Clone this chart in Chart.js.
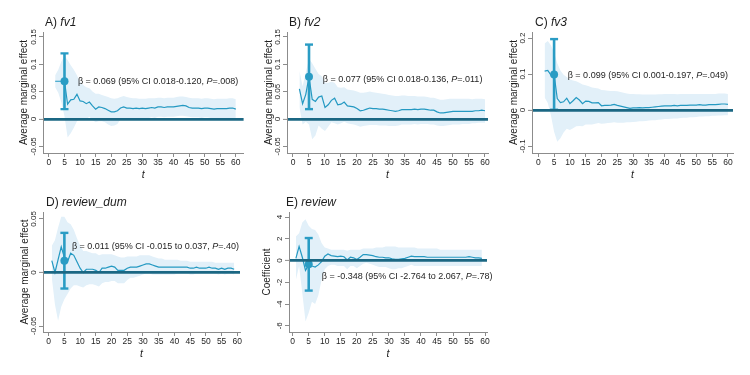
<!DOCTYPE html>
<html>
<head>
<meta charset="utf-8">
<script src="https://cdn.jsdelivr.net/npm/chart.js@4.4.1/dist/chart.umd.min.js"></script>
<style>
  html, body { margin: 0; padding: 0; background: #fff; }
  #wrap { position: relative; width: 750px; height: 375px; overflow: hidden; background: #fff; }
  #wrap canvas { position: absolute; }
</style>
</head>
<body>
<div id="wrap">
  <canvas id="panelA"></canvas>
  <canvas id="panelB"></canvas>
  <canvas id="panelC"></canvas>
  <canvas id="panelD"></canvas>
  <canvas id="panelE"></canvas>
</div>
<script>
// t values (months since start)
const tFrom2 = [2,3,4,5,6,7,8,9,10,11,12,13,14,15,16,17,18,19,20,21,22,23,24,25,26,27,28,29,30,31,
  32,33,34,35,36,37,38,39,40,41,42,43,44,45,46,47,48,49,50,51,52,53,54,55,56,57,58,59,60];
const tFrom1 = [1,2,3,4,5,6,7,8,9,10,11,12,13,14,15,16,17,18,19,20,21,22,23,24,25,26,27,28,29,30,
  31,32,33,34,35,36,37,38,39,40,41,42,43,44,45,46,47,48,49,50,51,52,53,54,55,56,57,58,59];

// A) fv1
const fv1Est = [.069,.069,.069,.069,.027,.035,.036,.045,.033,.032,.028,.031,.024,.018,.022,.021,.019,.016,.013,.013,
  .015,.020,.022,.020,.020,.019,.020,.019,.020,.019,.020,.021,.020,.022,.022,.021,.022,.022,.022,.023,
  .024,.025,.024,.021,.020,.020,.020,.019,.020,.020,.019,.018,.019,.019,.019,.019,.020,.020,.018];
const fv1Upper = [.080,.090,.105,.115,.108,.098,.090,.080,.068,.062,.058,.056,.050,.046,.046,.044,.042,.040,.038,.037,
  .038,.040,.042,.040,.039,.038,.038,.037,.037,.037,.038,.038,.038,.039,.039,.038,.039,.039,.039,.040,
  .041,.041,.040,.039,.038,.038,.038,.037,.038,.038,.037,.036,.037,.037,.037,.037,.038,.038,.036];
const fv1Lower = [.058,.048,.030,.005,-.034,-.026,-.016,-.004,.000,.002,.000,.004,-.002,-.006,-.004,-.004,-.006,-.010,-.013,-.012,
  -.009,.000,.002,.001,.001,.001,.002,.001,.002,.001,.002,.003,.002,.004,.004,.003,.004,.004,.004,.005,
  .006,.006,.005,.004,.003,.003,.003,.002,.003,.003,.002,.001,.002,.002,.002,.002,.002,.002,.001];

// B) fv2
const fv2Est = [.055,.028,.045,.077,.036,.032,.040,.042,.021,.026,.034,.038,.026,.027,.031,.024,.023,.022,.019,.015,
  .016,.018,.020,.019,.019,.018,.018,.017,.016,.015,.014,.015,.017,.017,.017,.017,.018,.017,.018,.018,
  .017,.016,.016,.013,.011,.011,.012,.013,.014,.014,.014,.014,.014,.014,.014,.015,.015,.016,.015];
const fv2Upper = [.088,.060,.085,.110,.102,.092,.082,.078,.066,.066,.068,.066,.058,.057,.058,.054,.053,.052,.050,.048,
  .048,.049,.050,.049,.048,.047,.046,.045,.044,.043,.042,.042,.043,.043,.042,.042,.042,.041,.041,.041,
  .040,.039,.039,.037,.035,.035,.036,.037,.037,.037,.037,.037,.037,.037,.036,.037,.037,.037,.036];
const fv2Lower = [.022,-.010,-.005,-.010,-.037,-.030,-.012,-.018,-.022,-.014,-.006,-.008,-.010,-.008,-.005,-.008,-.009,-.010,-.012,-.014,
  -.013,-.012,-.011,-.011,-.011,-.012,-.012,-.012,-.013,-.013,-.013,-.012,-.010,-.010,-.010,-.010,-.009,-.010,-.009,-.009,
  -.009,-.010,-.010,-.012,-.013,-.013,-.012,-.011,-.010,-.010,-.010,-.009,-.009,-.009,-.008,-.008,-.007,-.007,-.007];

// C) fv3
const fv3Est = [.108,.110,.097,.099,.032,.021,.023,.033,.018,.026,.035,.028,.018,.025,.024,.020,.020,.021,.012,.013,
  .013,.014,.016,.013,.011,.009,.007,.005,.006,.006,.007,.006,.007,.007,.008,.009,.010,.011,.012,.012,
  .012,.013,.012,.013,.013,.013,.014,.014,.014,.015,.014,.014,.015,.015,.015,.016,.017,.017,.016];
const fv3Upper = [.185,.192,.180,.160,.130,.110,.098,.092,.085,.082,.080,.076,.071,.069,.066,.063,.061,.060,.056,.055,
  .054,.053,.053,.052,.050,.048,.046,.045,.045,.044,.044,.043,.043,.043,.043,.043,.044,.044,.045,.045,
  .045,.045,.044,.045,.045,.045,.045,.045,.045,.045,.045,.045,.045,.045,.045,.046,.046,.046,.045];
const fv3Lower = [.035,.020,-.015,-.060,-.088,-.078,-.062,-.052,-.055,-.050,-.045,-.044,-.045,-.040,-.040,-.040,-.038,-.036,-.038,-.037,
  -.036,-.035,-.034,-.035,-.035,-.035,-.034,-.034,-.033,-.032,-.031,-.031,-.030,-.029,-.028,-.028,-.027,-.026,-.025,-.025,
  -.024,-.023,-.023,-.022,-.021,-.021,-.020,-.020,-.019,-.018,-.018,-.017,-.017,-.016,-.016,-.015,-.015,-.014,-.014];

// D) review_dum
const reviewDumEst = [.011,.000,.012,.024,.014,.010,.018,.016,.010,.004,.000,.003,.003,.003,.002,.000,.004,.004,.005,.006,
  .005,.002,.002,.002,.004,.005,.005,.005,.006,.007,.008,.008,.007,.006,.005,.005,.005,.005,.005,.005,
  .005,.005,.005,.005,.004,.004,.005,.004,.004,.004,.005,.004,.004,.003,.004,.003,.004,.004,.003];
const reviewDumUpper = [.025,.030,.042,.052,.052,.047,.045,.040,.032,.025,.020,.020,.019,.018,.018,.016,.017,.017,.017,.017,
  .016,.015,.014,.014,.015,.015,.015,.015,.016,.016,.016,.016,.015,.014,.013,.013,.012,.012,.012,.012,
  .012,.011,.011,.011,.010,.010,.010,.010,.010,.010,.010,.010,.009,.009,.009,.009,.009,.009,.009];
const reviewDumLower = [-.005,-.030,-.045,-.032,-.025,-.020,-.015,-.012,-.012,-.013,-.014,-.012,-.011,-.011,-.012,-.013,-.010,-.009,-.009,-.008,
  -.008,-.010,-.010,-.010,-.007,-.005,-.005,-.004,-.003,-.002,-.001,-.001,-.002,-.002,-.002,-.002,-.002,-.002,-.002,-.002,
  -.001,-.001,-.001,-.001,-.002,-.002,-.001,-.001,-.001,-.001,-.001,-.001,-.001,-.002,-.001,-.002,-.001,-.001,-.002];

// E) review
const reviewEst = [.2,1.3,.3,-.9,-.4,-.5,-.6,-.4,-.1,.4,.6,.45,.4,.35,.4,.35,.05,.3,.25,.1,
  .3,.55,.55,.5,.45,.35,.3,.3,.25,.25,.15,.1,.1,.15,.2,.3,.4,.35,.35,.35,
  .35,.3,.3,.3,.3,.3,.3,.3,.3,.3,.3,.3,.3,.3,.35,.3,.25,.25,.2];
const reviewUpper = [2.2,2.5,3.5,3.8,3.2,2.9,2.8,2.4,1.6,1.2,1.1,1.0,1.0,1.0,1.0,1.0,.9,1.0,1.0,1.0,
  1.0,1.1,1.1,1.1,1.1,1.2,1.2,1.2,1.3,1.3,1.3,1.3,1.2,1.2,1.2,1.2,1.2,1.2,1.1,1.1,
  1.1,1.1,1.1,1.1,1.1,1.0,1.0,1.0,1.0,1.0,1.0,1.0,1.0,1.0,1.0,1.0,1.0,1.0,1.0];
const reviewLower = [-1.8,-.5,-3.0,-5.6,-4.8,-3.8,-4.0,-3.2,-1.8,-.8,-.5,-.4,-.4,-.5,-.5,-.5,-.8,-.5,-.5,-.7,
  -.5,-.3,-.2,-.3,-.4,-.5,-.6,-.6,-.6,-.7,-.8,-.8,-.7,-.7,-.6,-.5,-.4,-.5,-.5,-.5,
  -.5,-.5,-.5,-.5,-.5,-.5,-.5,-.5,-.5,-.5,-.5,-.5,-.5,-.5,-.5,-.5,-.5,-.5,-.5];

// point estimate at t = 5 with 95% CI
const betaT = 5;
const betas = [0.069, 0.077, 0.099, 0.011, -0.348];
const ciLow = [0.018, 0.018, 0.001, -0.015, -2.764];
const ciHigh = [0.120, 0.136, 0.197, 0.037, 2.067];

const fam = "'Liberation Sans', Arial, Helvetica, sans-serif";
const lineColor = '#2499c2';
const markColor = '#2a9cc4';
const zeroColor = '#1b6783';
const bandColor = '#e2f0f9';
const axisColor = '#8c8c8c';
const textColor = '#1e1e1e';

Chart.defaults.font.family = fam;

const fmt = v => String(+(+v).toFixed(3));

const panelText = {
  id: 'panelText',
  afterDraw(chart, args, o) {
    const ctx = chart.ctx;
    ctx.save();
    ctx.fillStyle = textColor;
    ctx.textAlign = 'left';
    ctx.textBaseline = 'middle';
    const runs = (parts, x, y, size) => {
      parts.forEach(([txt, it]) => {
        ctx.font = (it ? 'italic ' : '') + size + 'px ' + fam;
        ctx.fillText(txt, x, y);
        x += ctx.measureText(txt).width;
      });
    };
    runs(o.title, o.titleX, o.titleY, 12);
    runs(o.note, chart.scales.x.getPixelForValue(o.noteAt[0]), chart.scales.y.getPixelForValue(o.noteAt[1]), 9);
    ctx.restore();
  }
};

function widestTick(p) {
  const c = document.createElement('canvas').getContext('2d');
  c.font = '8px ' + fam;
  let w = 0;
  for (let k = Math.ceil(p.y[0] / p.yStep); k * p.yStep <= p.y[1]; k++) {
    w = Math.max(w, c.measureText(fmt(k * p.yStep)).width);
  }
  return w;
}

function drawPanel(id, p, i) {
  const cv = document.getElementById(id);
  const [cl, ct, cw, ch] = p.box;
  const [pl, pt, pr, pb] = p.plot;
  cv.width = cw; cv.height = ch;
  cv.style.left = cl + 'px'; cv.style.top = ct + 'px';
  const pts = vals => p.t.map((t, k) => ({ x: t, y: vals[k] }));
  const tickLen = 4;
  const yPad = 9 - tickLen - widestTick(p) / 2;
  const xTitleLH = 12;
  const isZero = c => c.tick && Math.abs(c.tick.value) < 1e-9;

  new Chart(cv, {
    type: 'line',
    data: {
      datasets: [
        { data: [{ x: betaT, y: betas[i] }], showLine: false, pointRadius: 4, pointHoverRadius: 4,
          pointBackgroundColor: markColor, pointBorderWidth: 0, borderColor: markColor },
        { data: [{ x: betaT, y: ciLow[i] }, { x: betaT, y: ciHigh[i] }], borderColor: markColor, borderWidth: 2.6,
          pointStyle: 'line', pointRadius: 4, pointHoverRadius: 4, pointBorderColor: markColor, pointBorderWidth: 2.4 },
        { data: pts(p.est), borderColor: lineColor, borderWidth: 1.2, pointRadius: 0, tension: 0 },
        { data: pts(p.upper), borderColor: 'rgba(0,0,0,0)', borderWidth: 1, pointRadius: 0,
          fill: '+1', backgroundColor: bandColor },
        { data: pts(p.lower), borderColor: 'rgba(0,0,0,0)', borderWidth: 1, pointRadius: 0, fill: false }
      ]
    },
    options: {
      responsive: false,
      animation: false,
      devicePixelRatio: 1,
      layout: { padding: { left: 0, right: cl + cw - pr, top: pt - ct, bottom: 0 } },
      plugins: {
        legend: { display: false },
        tooltip: { enabled: false },
        panelText: {
          title: p.title, titleX: p.titleAt[0] - cl, titleY: p.titleAt[1] - ct,
          note: p.note, noteAt: p.noteAt
        }
      },
      scales: {
        x: {
          type: 'linear', min: p.x[0], max: p.x[1],
          afterFit: s => { s.height = ct + ch - pb; },
          ticks: { stepSize: 5, includeBounds: false, font: { size: 8.5 }, color: textColor, padding: 1, maxRotation: 0 },
          grid: { drawOnChartArea: false, tickLength: tickLen, tickColor: axisColor, tickWidth: 1 },
          border: { color: axisColor, width: 1 },
          title: { display: true, text: 't', font: { size: 10.5, style: 'italic' }, color: textColor,
            padding: { top: 0, bottom: ch - (pb - ct + 22) - xTitleLH / 2 } }
        },
        y: {
          min: p.y[0], max: p.y[1],
          afterFit: s => { s.width = pl - cl; },
          ticks: { stepSize: p.yStep, includeBounds: false, minRotation: 90, maxRotation: 90, crossAlign: 'center',
            padding: yPad, font: { size: 8 }, color: textColor, callback: v => fmt(v) },
          grid: {
            z: 1,
            drawOnChartArea: true,
            color: c => isZero(c) ? zeroColor : 'rgba(0,0,0,0)',
            lineWidth: c => isZero(c) ? 2.8 : 1,
            tickLength: tickLen, tickColor: axisColor, tickWidth: 1
          },
          border: { color: axisColor, width: 1, z: 1 },
          title: { display: true, text: p.yTitle, font: { size: 10 }, color: textColor,
            padding: { top: p.yTitleX - 6, bottom: 0 } }
        }
      }
    },
    plugins: [panelText]
  });
}

const panels = [
  { id: 'panelA', box: [0, 0, 250, 187], plot: [43, 32, 246, 153], x: [-1.9, 62.5], y: [-0.0622, 0.159], yStep: 0.05,
    t: tFrom2, est: fv1Est, upper: fv1Upper, lower: fv1Lower, yTitle: 'Average marginal effect', yTitleX: 24,
    title: [['A) ', false], ['fv1', true]], titleAt: [45, 23],
    note: [['β = 0.069 (95% CI 0.018-0.120, ', false], ['P', true], ['=.008)', false]], noteAt: [9.3, 0.069] },
  { id: 'panelB', box: [250, 0, 250, 187], plot: [287, 32, 488, 153], x: [-1.875, 60.94], y: [-0.0622, 0.159], yStep: 0.05,
    t: tFrom2, est: fv2Est, upper: fv2Upper, lower: fv2Lower, yTitle: 'Average marginal effect', yTitleX: 19,
    title: [['B) ', false], ['fv2', true]], titleAt: [289, 23],
    note: [['β = 0.077 (95% CI 0.018-0.136, ', false], ['P', true], ['=.011)', false]], noteAt: [9.3, 0.073] },
  { id: 'panelC', box: [500, 0, 250, 187], plot: [532, 32, 733, 153], x: [-1.99, 61.6], y: [-0.119, 0.2167], yStep: 0.1,
    t: tFrom2, est: fv3Est, upper: fv3Upper, lower: fv3Lower, yTitle: 'Average marginal effect', yTitleX: 14,
    title: [['C) ', false], ['fv3', true]], titleAt: [535, 23],
    note: [['β = 0.099 (95% CI 0.001-0.197, ', false], ['P', true], ['=.049)', false]], noteAt: [9.3, 0.097] },
  { id: 'panelD', box: [0, 187, 250, 188], plot: [43, 212, 240, 332], x: [-1.8, 60.85], y: [-0.0556, 0.0565], yStep: 0.05,
    t: tFrom1, est: reviewDumEst, upper: reviewDumUpper, lower: reviewDumLower, yTitle: 'Average marginal effect', yTitleX: 25,
    title: [['D) ', false], ['review_dum', true]], titleAt: [46, 203],
    note: [['β = 0.011 (95% CI -0.015 to 0.037, ', false], ['P', true], ['=.40)', false]], noteAt: [7.4, 0.024] },
  { id: 'panelE', box: [250, 187, 250, 188], plot: [289, 212, 487, 332], x: [-1.15, 60.6], y: [-6.57, 4.46], yStep: 2,
    t: tFrom1, est: reviewEst, upper: reviewUpper, lower: reviewLower, yTitle: 'Coefficient', yTitleX: 17,
    title: [['E) ', false], ['review', true]], titleAt: [286, 203],
    note: [['β = -0.348 (95% CI -2.764 to 2.067, ', false], ['P', true], ['=.78)', false]], noteAt: [9.05, -1.43] }
];

panels.forEach((p, i) => drawPanel(p.id, p, i));
</script>
</body>
</html>
